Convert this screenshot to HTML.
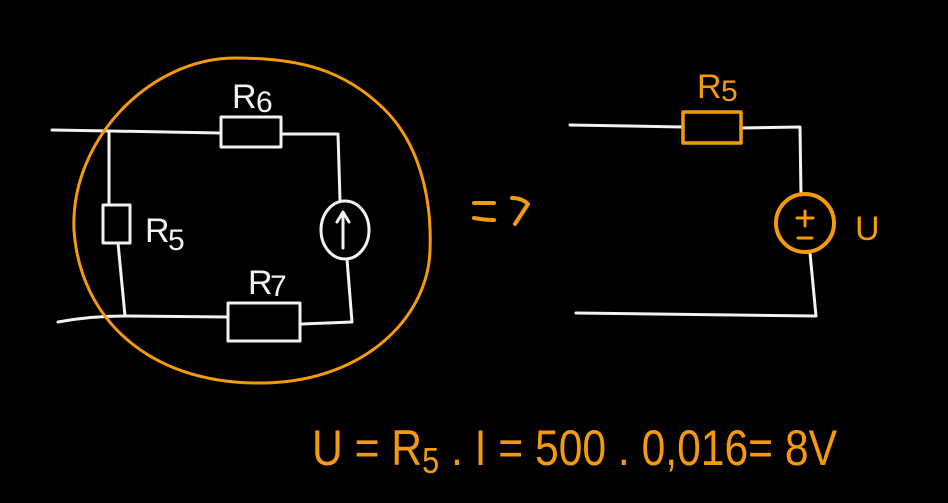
<!DOCTYPE html>
<html><head><meta charset="utf-8"><style>
html,body{margin:0;padding:0;background:#000;}
svg{display:block}
text{font-family:"Liberation Sans",sans-serif;}
</style></head><body>
<svg width="948" height="503" viewBox="0 0 948 503" xmlns="http://www.w3.org/2000/svg">
<rect width="948" height="503" fill="#000"/>
<g fill="none" stroke="#f2f2f2" stroke-width="3" stroke-linecap="round" stroke-linejoin="round">
  <path d="M52 130 L110 131 L220 133"/>
  <rect x="221" y="117" width="60" height="30"/>
  <path d="M281 134 L338 134 L340 200"/>
  <ellipse cx="345" cy="230" rx="24" ry="29"/>
  <path d="M343 248 L343 213 M337 222 L343 212 L349 222"/>
  <path d="M347 259 L352 322 L302 324"/>
  <rect x="228" y="303" width="72" height="38"/>
  <path d="M228 317 L125 316 L118 243"/>
  <path d="M58 322 Q90 316 125 316"/>
  <path d="M109 132 L109 205"/>
  <rect x="103" y="205" width="27" height="38"/>
  <path d="M570 125 L683 127"/>
  <path d="M741 128 L800 127 L801 195"/>
  <path d="M810 253 L816 316 L576 313"/>
</g>
<g fill="#f2f2f2">
  <text x="232" y="108" font-size="34">R</text><text x="256" y="112" font-size="30">6</text>
  <text x="145" y="242" font-size="34">R</text><text x="168" y="250" font-size="30">5</text>
  <text x="248" y="294" font-size="34">R</text><text x="270" y="296" font-size="30">7</text>
</g>
<g fill="none" stroke="#f59a0a" stroke-linecap="round" stroke-linejoin="round">
  <path stroke-width="3" d="M235 58 C300 58 345 70 385 110 C420 145 432 200 430 250 C428 320 360 385 255 383 C150 382 80 320 74 230 C70 140 150 58 235 58 Z"/>
  <path stroke-width="4" d="M474 203 L494 203 M474 218 Q485 220 494 220 M512 198 Q522 198 528 204 L515 224"/>
  <rect x="683" y="112" width="58" height="31" stroke-width="3.5"/>
  <circle cx="805" cy="223" r="29" stroke-width="4"/>
  <path d="M805 211 L805 226 M797 218 L813 218 M798 238 L812 238" stroke-width="3"/>
</g>
<g fill="#f59a0a">
  <text x="697" y="98" font-size="34">R</text><text x="721" y="101" font-size="30">5</text>
  <text x="855" y="240" font-size="34">U</text>
  <text x="312" y="465" font-size="50" textLength="525" lengthAdjust="spacingAndGlyphs">U = R<tspan font-size="36" dy="8">5</tspan><tspan dy="-8"> . I = 500 . 0,016= 8V</tspan></text>
</g>
</svg>
</body></html>
